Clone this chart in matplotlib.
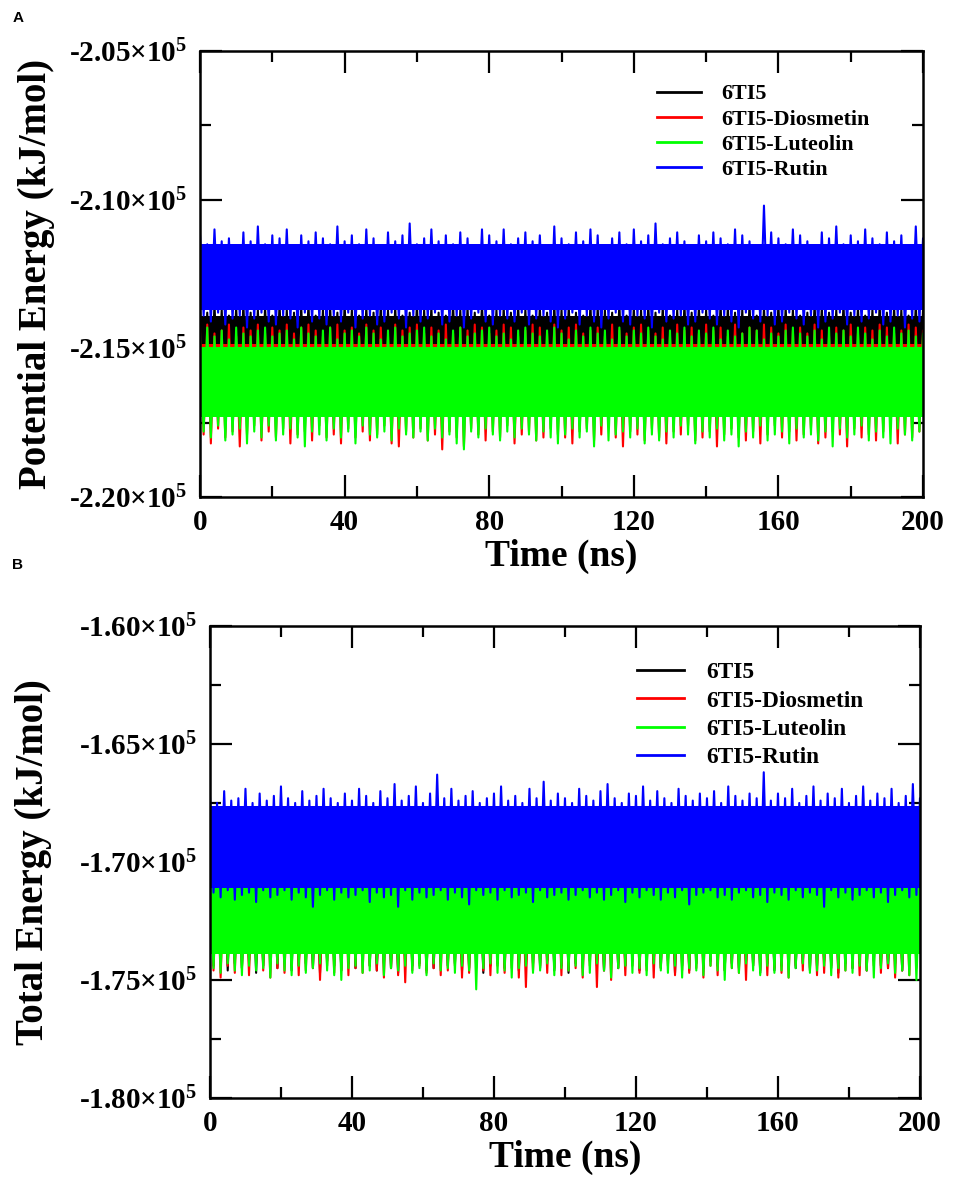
import numpy as np
import matplotlib
matplotlib.use("Agg")
import matplotlib.pyplot as plt
from matplotlib.lines import Line2D
from matplotlib.ticker import FixedLocator, MultipleLocator

plt.rcParams["font.family"] = ["Liberation Serif", "DejaVu Serif"]
plt.rcParams["font.weight"] = "bold"
plt.rcParams["mathtext.fontset"] = "custom"
plt.rcParams["mathtext.rm"] = "Liberation Serif:bold"
plt.rcParams["mathtext.it"] = "Liberation Serif:bold"
plt.rcParams["mathtext.bf"] = "Liberation Serif:bold"

names = ["6TI5", "6TI5-Diosmetin", "6TI5-Luteolin", "6TI5-Rutin"]
colors = ["#000000", "#ff0000", "#00ff00", "#0000ff"]

# Values in 10^3 kJ/mol. Peaks (hi) read every 2 ns from 0 to 200 ns,
# troughs (lo) read 1 ns after each peak. core = dense band (top, bottom).

# ---- panel A : potential energy ----
core_A = [(-213.9, -216.8), (-214.85, -217.1), (-214.95, -217.3), (-211.5, -213.7)]
black_hi_A = [
    -213.6, -213.8, -213.5, -213.7, -213.9, -213.6, -213.5, -213.8, -213.7, -213.6,
    -213.9, -213.5, -213.7, -213.8, -213.6, -213.5, -213.9, -213.7, -213.6, -213.8,
    -213.5, -213.7, -213.9, -213.6, -213.8, -213.5, -213.7, -213.6, -213.9, -213.8,
    -213.5, -213.7, -213.6, -213.8, -213.9, -213.5, -213.7, -213.6, -213.8, -213.5,
    -213.9, -213.7, -213.6, -213.8, -213.5, -213.7, -213.9, -213.6, -213.8, -213.5,
    -213.7, -213.6, -213.8, -213.9, -213.5, -213.6, -213.7, -213.8, -213.5, -213.9,
    -213.6, -213.7, -213.5, -213.8, -213.6, -213.9, -213.7, -213.5, -213.8, -213.6,
    -213.7, -213.9, -213.5, -213.6, -213.8, -213.7, -213.5, -213.9, -213.6, -213.8,
    -213.5, -213.6, -213.7, -213.9, -213.8, -213.5, -213.6, -213.8, -213.7, -213.5,
    -213.8, -213.6, -213.9, -213.7, -213.5, -213.8, -213.6, -213.7, -213.9, -213.5,
    -213.7]
black_lo_A = [
    -216.7, -216.9, -216.6, -216.8, -216.5, -216.6, -216.8, -216.7, -216.9, -216.5,
    -216.8, -216.6, -216.7, -216.9, -216.5, -216.8, -216.6, -216.7, -216.5, -216.9,
    -216.6, -216.8, -216.7, -216.5, -216.9, -216.6, -216.8, -216.7, -216.6, -216.5,
    -216.9, -216.7, -216.8, -216.6, -216.5, -216.7, -216.9, -216.8, -216.6, -216.7,
    -216.5, -216.8, -216.6, -216.9, -216.7, -216.5, -216.6, -216.8, -216.9, -216.7,
    -216.6, -216.5, -216.8, -216.7, -216.9, -216.6, -216.7, -216.5, -216.8, -216.6,
    -216.9, -216.7, -216.5, -216.6, -216.8, -216.9, -216.7, -216.6, -216.5, -216.8,
    -216.7, -216.6, -216.9, -216.5, -216.8, -216.7, -216.6, -216.9, -216.7, -216.5,
    -216.8, -216.6, -216.7, -216.9, -216.5, -216.6, -216.8, -216.7, -216.5, -216.9,
    -216.6, -216.8, -216.5, -216.7, -216.9, -216.6, -216.7, -216.8, -216.6, -216.5,
    -216.7]
red_hi_A = [
    -214.3, -214.2, -214.5, -214.4, -214.2, -214.6, -214.3, -214.4, -214.2, -214.5,
    -214.3, -214.4, -214.2, -214.5, -214.3, -214.2, -214.4, -214.6, -214.3, -214.2,
    -214.4, -214.3, -214.5, -214.2, -214.4, -214.3, -214.6, -214.2, -214.4, -214.3,
    -214.2, -214.5, -214.3, -214.4, -214.2, -214.5, -214.3, -214.4, -214.2, -214.3,
    -214.5, -214.4, -214.2, -214.3, -214.6, -214.4, -214.2, -214.3, -214.5, -214.2,
    -214.4, -214.3, -214.2, -214.5, -214.4, -214.3, -214.6, -214.2, -214.4, -214.5,
    -214.3, -214.2, -214.4, -214.5, -214.3, -214.6, -214.2, -214.4, -214.3, -214.5,
    -214.2, -214.4, -214.3, -214.6, -214.2, -214.5, -214.3, -214.4, -214.2, -214.3,
    -214.5, -214.2, -214.4, -214.3, -214.5, -214.2, -214.4, -214.6, -214.3, -214.4,
    -214.2, -214.5, -214.3, -214.4, -214.2, -214.3, -214.5, -214.4, -214.2, -214.3,
    -214.4]
red_lo_A = [
    -217.9, -218.2, -217.7, -218.0, -217.8, -218.3, -217.9, -217.6, -218.1, -217.8,
    -218.0, -217.7, -218.2, -217.9, -217.8, -218.1, -217.6, -218.0, -217.9, -218.2,
    -217.7, -218.0, -217.8, -218.1, -217.9, -217.6, -218.2, -218.3, -217.8, -218.0,
    -217.7, -218.1, -217.9, -218.4, -217.8, -218.0, -218.3, -217.7, -217.9, -218.1,
    -217.8, -218.0, -217.6, -218.2, -217.9, -217.8, -218.1, -218.0, -217.7, -217.9,
    -218.0, -218.2, -217.8, -217.7, -218.1, -217.9, -217.6, -218.0, -218.3, -217.8,
    -217.9, -218.1, -217.7, -218.0, -218.2, -217.8, -217.9, -217.6, -218.1, -218.0,
    -217.8, -218.3, -217.9, -217.7, -218.0, -218.1, -217.8, -218.2, -217.9, -217.6,
    -218.0, -217.8, -218.1, -217.9, -217.7, -218.2, -218.0, -217.8, -217.9, -218.3,
    -217.7, -218.0, -217.9, -218.1, -217.8, -217.6, -218.2, -217.9, -218.0, -217.8,
    -217.9]
green_hi_A = [
    -214.5, -214.3, -214.6, -214.4, -214.7, -214.3, -214.5, -214.6, -214.4, -214.3,
    -214.6, -214.5, -214.4, -214.7, -214.3, -214.5, -214.6, -214.4, -214.3, -214.7,
    -214.5, -214.4, -214.6, -214.3, -214.5, -214.7, -214.4, -214.3, -214.6, -214.5,
    -214.4, -214.3, -214.6, -214.5, -214.7, -214.4, -214.3, -214.6, -214.5, -214.4,
    -214.3, -214.6, -214.5, -214.7, -214.4, -214.3, -214.5, -214.6, -214.4, -214.3,
    -214.5, -214.7, -214.4, -214.6, -214.3, -214.5, -214.4, -214.7, -214.3, -214.6,
    -214.4, -214.5, -214.3, -214.6, -214.7, -214.4, -214.5, -214.3, -214.6, -214.4,
    -214.5, -214.3, -214.7, -214.4, -214.6, -214.5, -214.3, -214.4, -214.7, -214.5,
    -214.6, -214.4, -214.3, -214.5, -214.6, -214.4, -214.7, -214.3, -214.5, -214.4,
    -214.6, -214.3, -214.5, -214.7, -214.4, -214.6, -214.3, -214.5, -214.4, -214.6,
    -214.5]
green_lo_A = [
    -217.8, -218.0, -217.6, -218.1, -217.9, -217.7, -218.2, -217.8, -218.0, -217.6,
    -218.1, -217.9, -217.7, -218.0, -218.3, -217.8, -217.9, -218.1, -217.7, -218.0,
    -217.8, -218.2, -217.6, -217.9, -218.0, -217.8, -218.1, -217.7, -217.9, -218.0,
    -217.8, -218.1, -217.7, -218.0, -217.9, -218.2, -218.4, -217.8, -218.0, -217.7,
    -217.9, -218.1, -217.8, -218.0, -217.7, -217.9, -218.1, -217.8, -218.0, -218.2,
    -217.9, -217.7, -218.0, -217.8, -218.3, -217.6, -218.1, -217.9, -217.8, -218.0,
    -217.7, -218.2, -217.9, -218.1, -217.8, -218.0, -217.6, -217.9, -218.2, -217.8,
    -218.0, -217.7, -218.1, -217.9, -218.3, -217.8, -218.0, -217.6, -218.1, -217.9,
    -217.8, -218.2, -217.7, -218.0, -217.9, -218.1, -217.8, -218.3, -217.7, -218.0,
    -217.9, -217.6, -218.1, -217.8, -218.0, -218.2, -217.7, -217.9, -218.1, -217.8,
    -218.0]
blue_hi_A = [
    -211.2, -211.5, -211.0, -211.4, -211.3, -211.6, -211.1, -211.4, -210.9, -211.5,
    -211.2, -211.3, -211.0, -211.6, -211.2, -211.4, -211.1, -211.3, -211.5, -210.9,
    -211.4, -211.2, -211.5, -211.0, -211.3, -211.6, -211.1, -211.4, -211.2, -210.8,
    -211.5, -211.3, -211.0, -211.4, -211.2, -211.5, -211.1, -211.3, -211.6, -211.0,
    -211.2, -211.4, -211.0, -211.5, -211.3, -211.1, -211.4, -211.2, -211.6, -210.9,
    -211.3, -211.5, -211.1, -211.4, -211.0, -211.2, -211.6, -211.3, -211.1, -211.5,
    -211.0, -211.4, -211.2, -210.8, -211.5, -211.3, -211.1, -211.4, -211.6, -211.2,
    -211.4, -211.1, -211.3, -211.5, -211.0, -211.2, -211.4, -211.6, -210.2, -211.1,
    -211.3, -211.5, -211.0, -211.2, -211.4, -211.6, -211.1, -211.3, -210.9, -211.5,
    -211.2, -211.4, -211.0, -211.3, -211.5, -211.1, -211.4, -211.2, -211.6, -210.9,
    -211.3]
blue_lo_A = [
    -213.9, -214.1, -213.8, -214.2, -214.0, -213.9, -214.3, -214.0, -213.8, -214.1,
    -214.2, -213.9, -214.0, -214.3, -213.8, -214.1, -214.0, -214.2, -213.9, -214.1,
    -213.8, -214.3, -214.0, -213.9, -214.2, -214.1, -213.8, -214.0, -214.3, -213.9,
    -214.1, -214.0, -213.8, -214.2, -214.1, -213.9, -214.3, -214.0, -213.8, -214.1,
    -214.2, -213.9, -214.0, -214.1, -213.8, -214.2, -214.0, -213.9, -214.1, -214.3,
    -214.0, -213.8, -214.2, -213.9, -214.1, -214.3, -214.0, -213.8, -214.1, -214.2,
    -213.9, -214.0, -214.3, -213.8, -214.1, -214.0, -213.9, -214.2, -214.1, -213.8,
    -214.0, -214.2, -213.9, -214.1, -214.3, -213.8, -214.0, -214.1, -213.9, -214.2,
    -214.1, -213.8, -214.0, -214.2, -213.9, -214.3, -214.1, -214.0, -213.8, -214.2,
    -213.9, -214.1, -214.0, -213.8, -214.2, -214.1, -213.9, -214.3, -214.0, -214.1,
    -213.9]

# ---- panel B : total energy ----
core_B = [(-170.7, -173.8), (-170.7, -173.8), (-170.8, -173.9), (-167.65, -171.1)]
black_hi_B = [
    -170.4, -170.6, -170.3, -170.5, -170.4, -170.6, -170.3, -170.5, -170.4, -170.3,
    -170.6, -170.5, -170.4, -170.3, -170.6, -170.4, -170.5, -170.3, -170.6, -170.4,
    -170.5, -170.3, -170.4, -170.6, -170.5, -170.3, -170.4, -170.6, -170.5, -170.4,
    -170.3, -170.5, -170.6, -170.4, -170.3, -170.5, -170.4, -170.6, -170.3, -170.5,
    -170.4, -170.6, -170.3, -170.5, -170.4, -170.3, -170.6, -170.5, -170.4, -170.3,
    -170.5, -170.4, -170.6, -170.3, -170.5, -170.6, -170.4, -170.3, -170.5, -170.4,
    -170.6, -170.3, -170.5, -170.4, -170.6, -170.5, -170.3, -170.4, -170.6, -170.3,
    -170.4, -170.5, -170.3, -170.6, -170.4, -170.3, -170.5, -170.6, -170.4, -170.5,
    -170.3, -170.6, -170.4, -170.5, -170.3, -170.4, -170.6, -170.5, -170.3, -170.4,
    -170.5, -170.3, -170.6, -170.4, -170.5, -170.3, -170.4, -170.6, -170.5, -170.3,
    -170.4]
black_lo_B = [
    -174.4, -174.2, -174.6, -174.3, -174.5, -174.2, -174.7, -174.4, -174.3, -174.5,
    -174.2, -174.6, -174.4, -174.3, -174.5, -174.7, -174.2, -174.4, -174.6, -174.3,
    -174.5, -174.2, -174.4, -174.6, -174.3, -174.5, -174.7, -174.2, -174.4, -174.3,
    -174.6, -174.5, -174.2, -174.4, -174.3, -174.6, -174.5, -174.2, -174.7, -174.4,
    -174.3, -174.5, -174.2, -174.6, -174.4, -174.3, -174.5, -174.2, -174.6, -174.4,
    -174.7, -174.3, -174.5, -174.2, -174.4, -174.6, -174.3, -174.5, -174.4, -174.2,
    -174.6, -174.4, -174.3, -174.5, -174.2, -174.7, -174.4, -174.6, -174.3, -174.5,
    -174.2, -174.4, -174.6, -174.3, -174.5, -174.2, -174.4, -174.7, -174.3, -174.6,
    -174.4, -174.2, -174.5, -174.3, -174.6, -174.4, -174.2, -174.5, -174.7, -174.3,
    -174.5, -174.3, -174.6, -174.2, -174.4, -174.5, -174.3, -174.6, -174.2, -174.4,
    -174.3]
red_hi_B = [
    -170.5, -170.3, -170.6, -170.4, -170.3, -170.5, -170.6, -170.4, -170.3, -170.5,
    -170.4, -170.6, -170.3, -170.5, -170.4, -170.3, -170.6, -170.5, -170.4, -170.3,
    -170.5, -170.6, -170.4, -170.3, -170.5, -170.4, -170.6, -170.3, -170.2, -170.5,
    -170.4, -170.3, -170.6, -170.5, -170.4, -170.3, -170.5, -170.6, -170.4, -170.3,
    -170.5, -170.4, -170.6, -170.3, -170.5, -170.4, -170.3, -170.6, -170.5, -170.4,
    -170.3, -170.5, -170.2, -170.6, -170.4, -170.3, -170.5, -170.4, -170.6, -170.3,
    -170.4, -170.6, -170.3, -170.5, -170.2, -170.4, -170.6, -170.3, -170.5, -170.4,
    -170.6, -170.3, -170.5, -170.4, -170.3, -170.6, -170.4, -170.5, -170.3, -170.6,
    -170.5, -170.4, -170.3, -170.6, -170.5, -170.3, -170.4, -170.6, -170.2, -170.5,
    -170.3, -170.5, -170.4, -170.6, -170.3, -170.5, -170.4, -170.3, -170.6, -170.5,
    -170.4]
red_lo_B = [
    -174.6, -174.9, -174.4, -174.7, -174.5, -174.8, -174.3, -174.6, -174.9, -174.5,
    -174.7, -174.4, -174.8, -174.6, -174.5, -175.0, -174.4, -174.7, -174.6, -174.8,
    -174.5, -174.7, -174.4, -174.6, -174.9, -174.5, -174.8, -175.1, -174.6, -174.4,
    -174.7, -174.5, -174.8, -174.6, -174.4, -174.9, -174.7, -174.5, -174.6, -174.8,
    -174.4, -174.7, -174.5, -174.9, -175.3, -174.6, -174.4, -174.7, -174.5, -174.8,
    -174.6, -174.5, -174.9, -174.4, -175.3, -174.6, -175.0, -174.5, -174.8, -174.4,
    -174.7, -174.6, -174.9, -174.5, -174.4, -174.8, -174.6, -174.7, -174.5, -174.9,
    -174.4, -174.8, -174.6, -174.5, -174.7, -175.0, -174.4, -174.6, -174.8, -174.5,
    -174.7, -174.9, -174.4, -174.6, -174.5, -174.8, -174.7, -174.4, -174.9, -174.6,
    -174.5, -174.8, -174.6, -174.4, -174.7, -174.5, -174.9, -174.6, -174.8, -174.5,
    -174.6]
green_hi_B = [
    -170.6, -170.4, -170.7, -170.5, -170.4, -170.6, -170.7, -170.5, -170.4, -170.6,
    -170.5, -170.7, -170.4, -170.6, -170.5, -170.4, -170.7, -170.6, -170.5, -170.4,
    -170.6, -170.7, -170.5, -170.4, -170.6, -170.5, -170.7, -170.4, -170.6, -170.5,
    -170.4, -170.7, -170.6, -170.5, -170.4, -170.6, -170.7, -170.5, -170.4, -170.6,
    -170.5, -170.7, -170.4, -170.6, -170.5, -170.4, -170.7, -170.6, -170.5, -170.4,
    -170.6, -170.5, -170.7, -170.4, -170.6, -170.5, -170.4, -170.7, -170.5, -170.6,
    -170.4, -170.6, -170.5, -170.7, -170.4, -170.5, -170.6, -170.4, -170.7, -170.5,
    -170.6, -170.4, -170.5, -170.7, -170.6, -170.4, -170.5, -170.6, -170.4, -170.7,
    -170.5, -170.6, -170.4, -170.7, -170.5, -170.6, -170.4, -170.5, -170.7, -170.6,
    -170.4, -170.5, -170.7, -170.6, -170.4, -170.5, -170.6, -170.7, -170.4, -170.5,
    -170.6]
green_lo_B = [
    -174.5, -174.7, -174.3, -174.6, -174.8, -174.4, -174.6, -174.5, -174.9, -174.3,
    -174.6, -174.8, -174.4, -174.7, -174.5, -174.3, -174.6, -174.8, -175.0, -174.5,
    -174.4, -174.7, -174.6, -174.3, -174.8, -174.5, -174.6, -174.4, -174.7, -174.5,
    -174.8, -174.3, -174.6, -174.5, -174.7, -174.4, -174.6, -175.4, -174.5, -174.3,
    -174.7, -174.6, -174.9, -174.5, -174.4, -174.7, -174.6, -174.3, -174.8, -174.5,
    -174.6, -174.4, -174.8, -174.7, -174.3, -174.6, -174.9, -174.5, -174.4, -174.7,
    -174.5, -174.8, -174.3, -174.6, -174.7, -174.4, -174.9, -174.5, -174.6, -174.8,
    -174.4, -174.6, -175.0, -174.5, -174.7, -174.3, -174.6, -174.8, -174.4, -174.7,
    -174.6, -174.9, -174.5, -174.3, -174.7, -174.6, -174.4, -174.8, -174.5, -174.6,
    -174.7, -174.4, -174.6, -174.9, -174.5, -174.3, -174.7, -174.6, -174.8, -175.0,
    -174.5]
blue_hi_B = [
    -167.2, -167.5, -167.0, -167.4, -167.3, -166.9, -167.5, -167.1, -167.4, -167.2,
    -166.8, -167.3, -167.5, -167.0, -167.4, -167.2, -166.9, -167.3, -167.5, -167.1,
    -167.4, -166.9, -167.2, -167.5, -167.0, -167.3, -166.7, -167.4, -167.2, -166.8,
    -167.5, -167.1, -166.3, -167.3, -166.9, -167.4, -167.2, -167.0, -167.5, -167.3,
    -167.1, -166.8, -167.4, -167.2, -167.5, -166.9, -167.3, -166.6, -167.4, -167.1,
    -167.3, -167.5, -166.9, -167.2, -167.4, -167.0, -166.7, -167.3, -167.5, -167.1,
    -167.2, -166.8, -167.4, -167.0, -167.3, -167.5, -166.9, -167.2, -167.4, -167.1,
    -167.3, -167.0, -167.5, -166.8, -167.2, -167.4, -167.1, -167.3, -166.2, -167.4,
    -167.1, -167.3, -166.9, -167.5, -167.2, -166.8, -167.4, -167.1, -167.3, -166.9,
    -167.5, -167.2, -166.8, -167.4, -167.1, -167.3, -166.9, -167.5, -167.2, -166.7,
    -167.3]
blue_lo_B = [
    -171.3, -171.5, -171.2, -171.6, -171.4, -171.3, -171.7, -171.2, -171.5, -171.4,
    -171.2, -171.6, -171.3, -171.5, -171.9, -171.4, -171.2, -171.6, -171.3, -171.5,
    -171.4, -171.2, -171.7, -171.3, -171.5, -171.4, -171.9, -171.2, -171.6, -171.3,
    -171.5, -171.4, -171.2, -171.6, -171.3, -171.5, -171.8, -171.2, -171.4, -171.3,
    -171.6, -171.2, -171.5, -171.4, -171.3, -171.7, -171.2, -171.5, -171.4, -171.3,
    -171.6, -171.4, -171.2, -171.5, -171.3, -171.6, -171.4, -171.2, -171.7, -171.3,
    -171.5, -171.2, -171.4, -171.6, -171.3, -171.5, -171.2, -171.8, -171.4, -171.3,
    -171.2, -171.5, -171.4, -171.6, -171.3, -171.2, -171.5, -171.4, -171.7, -171.3,
    -171.4, -171.6, -171.2, -171.5, -171.3, -171.4, -171.9, -171.2, -171.5, -171.3,
    -171.6, -171.4, -171.2, -171.5, -171.3, -171.7, -171.4, -171.2, -171.5, -171.4,
    -171.3]

hi_A = [black_hi_A, red_hi_A, green_hi_A, blue_hi_A]
lo_A = [black_lo_A, red_lo_A, green_lo_A, blue_lo_A]
hi_B = [black_hi_B, red_hi_B, green_hi_B, blue_hi_B]
lo_B = [black_lo_B, red_lo_B, green_lo_B, blue_lo_B]

yticks_A = [-220000, -215000, -210000, -205000]
yticks_B = [-180000, -175000, -170000, -165000, -160000]
xticks = [0, 40, 80, 120, 160, 200]


def sci_label(v):
    return "%.2f×10$^{5}$" % (v / 1e5)


def draw_panel(ax, cores, his, los, yticks, ylabel):
    for i, ((top, bot), hi, lo, c) in enumerate(zip(cores, his, los, colors)):
        n = min(len(hi), len(lo))
        tp = np.linspace(0, 200, n)
        step = tp[1] - tp[0]
        ax.fill_between([0, 200], top * 1e3, bot * 1e3, color=c, lw=0, zorder=2 + 2 * i)
        # trace through the read peaks and troughs
        xs = np.column_stack([tp, tp + step / 2]).ravel()
        ys = np.column_stack([hi[:n], lo[:n]]).ravel() * 1e3
        ax.plot(xs, ys, color=c, lw=1.5, zorder=2.5 + 2 * i)
    ax.set_xlim(0, 200)
    ax.set_ylim(yticks[0], yticks[-1])
    ax.xaxis.set_major_locator(FixedLocator(xticks))
    ax.xaxis.set_minor_locator(MultipleLocator(20))
    ax.yaxis.set_major_locator(FixedLocator(yticks))
    ax.yaxis.set_minor_locator(MultipleLocator(2500))
    ax.set_xticklabels([str(x) for x in xticks])
    ax.set_yticklabels([sci_label(v) for v in yticks])
    ax.tick_params(which="both", direction="in", top=True, right=True, width=1.6,
                   labelsize=21)
    ax.tick_params(which="major", length=16, pad=9)
    ax.tick_params(which="minor", length=8)
    for s in ax.spines.values():
        s.set_linewidth(1.8)
        s.set_zorder(20)
    ax.set_axisbelow(False)
    ax.set_xlabel("Time (ns)", fontsize=27, fontweight="bold", labelpad=2)
    ax.set_ylabel(ylabel, fontsize=28, fontweight="bold")


fig = plt.figure(figsize=(9.57, 11.83), dpi=100)
axA = fig.add_axes([0.2090, 0.5799, 0.7555, 0.3770])
axB = fig.add_axes([0.2194, 0.0719, 0.7419, 0.3990])

draw_panel(axA, core_A, hi_A, lo_A, yticks_A, "Potential Energy (kJ/mol)")
draw_panel(axB, core_B, hi_B, lo_B, yticks_B, "Total Energy (kJ/mol)")
axA.yaxis.set_label_coords(-0.200, 0.5)
axB.yaxis.set_label_coords(-0.222, 0.5)

handles = [Line2D([0], [0], color=c, lw=2) for c in colors]
fig.legend(handles, names, loc="upper left", bbox_to_anchor=(0.6865, 0.9290),
           frameon=False, fontsize=15.8, handlelength=2.0, handletextpad=0.95,
           labelspacing=0.22, borderpad=0, borderaxespad=0)
fig.legend(handles, names, loc="upper left", bbox_to_anchor=(0.6656, 0.4405),
           frameon=False, fontsize=16.8, handlelength=2.0, handletextpad=0.95,
           labelspacing=0.30, borderpad=0, borderaxespad=0)

fig.text(0.013, 0.985, "A", family="Liberation Sans", fontsize=11, fontweight="bold",
         va="center")
fig.text(0.013, 0.522, "B", family="Liberation Sans", fontsize=11, fontweight="bold",
         va="center")

fig.savefig("out.png", dpi=100)
